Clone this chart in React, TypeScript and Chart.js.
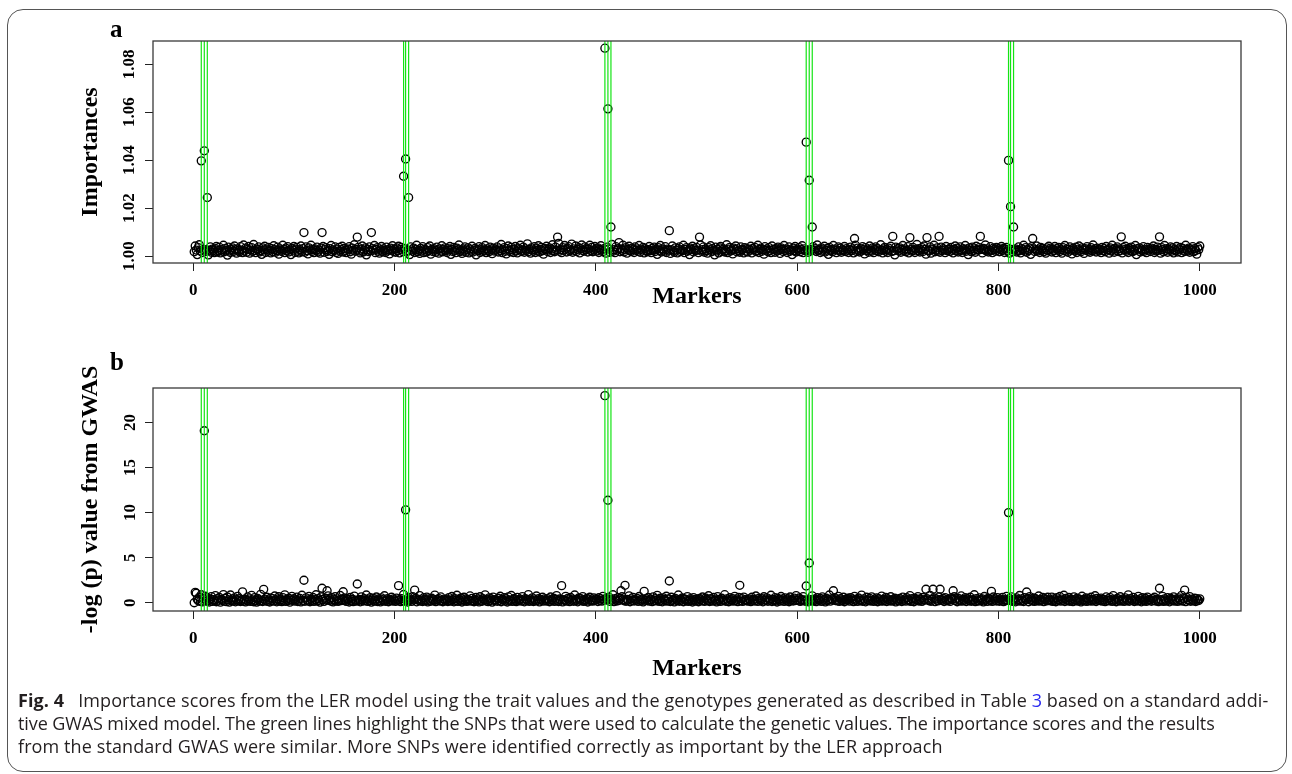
import React, { useEffect, useRef } from "react";
import { Chart, registerables } from "chart.js";

Chart.register(...registerables);

const SERIF = '"Liberation Serif", "Times New Roman", Times, serif';
const CAPTION_FONT = '"Open Sans", "Noto Sans", sans-serif';
const W = 1292;

// ---------- data ----------
const markerTicks = [0, 200, 400, 600, 800, 1000];
const importanceTicks = [1.0, 1.02, 1.04, 1.06, 1.08];
const gwasTicks = [0, 5, 10, 15, 20];

// SNPs used to build the genetic values (green lines)
const causalMarkers = [8, 11, 14, 209, 211, 214, 409, 412, 415, 609, 612, 615, 810, 812, 815];

// Panel a: background importances, in units of 0.0001 above 1.0000 (markers 1..1000)
const importanceBand = [
  18,42,25,6,35,47,21,30,15,28, 44,19,26,33,5,24,38,16,29,22, 14,31,40,17,23,36,13,27,20,45, 18,32,24,4,37,21,15,28,34,19, 42,26,12,30,23,17,39,25,14,46,
  21,33,16,28,40,12,25,35,19,48, 23,14,30,27,38,17,22,7,34,26, 41,15,29,20,36,24,13,31,18,43, 27,16,22,37,8,30,25,19,45,28, 14,33,21,39,17,26,6,32,24,40,
  15,29,36,20,13,27,42,18,31,24, 16,38,22,9,34,26,45,19,28,14, 30,23,37,17,25,12,33,21,40,16, 27,35,19,24,7,31,44,18,26,22, 38,15,29,11,36,20,27,41,17,32,
  23,14,30,26,39,18,8,33,24,47, 20,28,15,36,21,13,29,42,17,25, 34,5,27,19,38,22,16,31,24,44, 14,28,35,20,12,26,40,18,30,23, 15,37,21,27,9,33,25,43,19,29,
  16,34,22,41,13,28,36,19,25,31, 44,17,23,30,6,38,26,20,33,15, 27,45,18,24,11,32,21,39,14,29, 25,17,35,22,42,8,28,19,31,24, 16,37,26,12,30,20,43,18,27,34,
  22,15,31,25,40,7,28,19,36,23, 14,33,27,46,18,24,11,30,21,38, 16,26,34,13,29,20,41,17,25,32, 5,28,22,39,15,27,35,19,24,44, 14,30,23,18,37,26,10,33,21,29,
  25,38,17,30,22,48,14,27,35,20, 9,31,42,24,18,36,26,15,29,40, 21,13,33,27,45,19,24,37,16,30, 23,51,18,28,12,34,26,20,39,15, 31,24,43,17,28,36,22,8,32,27,
  41,19,26,34,15,29,47,22,18,37, 25,31,53,20,27,14,35,24,44,28, 17,32,39,21,26,50,16,30,23,42, 19,28,35,13,31,46,24,20,38,27, 33,17,29,45,22,36,18,25,40,30,
  21,34,15,28,43,24,18,31,26,12, 37,22,29,16,33,48,20,27,14,39, 25,31,56,18,30,23,45,17,26,35, 12,28,41,22,19,33,27,15,38,24, 30,20,44,16,29,25,36,13,31,23,
  18,27,40,22,14,32,25,37,19,28, 7,35,23,44,17,30,26,20,39,15, 29,24,33,11,27,42,21,16,34,25, 13,31,38,19,26,22,45,14,28,35, 20,24,6,33,27,41,17,30,23,36,
  25,14,32,46,20,27,38,16,29,22, 12,35,26,43,18,31,24,5,37,21, 28,13,34,40,19,26,30,17,23,47, 14,29,36,21,25,9,33,27,42,18, 30,22,16,38,24,28,13,35,20,31,
  17,29,24,41,13,32,26,36,19,22, 45,15,28,33,20,27,8,39,24,30, 18,35,23,14,42,26,29,16,31,21, 37,25,11,34,28,19,44,23,30,15, 27,38,20,25,6,33,22,40,17,29,
  24,35,18,27,43,14,30,22,37,26, 16,33,21,28,12,39,25,31,19,46, 23,27,15,34,20,29,41,17,24,32, 7,36,22,28,18,44,26,30,14,25, 38,21,33,16,27,23,40,19,31,24,
  15,28,37,22,30,13,26,45,19,33, 24,17,31,21,39,27,9,35,23,29, 16,42,25,20,34,14,28,38,22,31, 18,26,47,24,13,30,36,20,27,15, 33,25,41,19,29,22,5,37,26,32,
  21,34,16,28,44,23,30,18,25,39, 13,32,27,20,36,24,15,29,48,22, 31,17,26,35,19,42,28,8,33,24, 21,38,12,30,27,45,18,25,34,20, 29,16,37,23,31,26,14,40,22,28,
  30,19,36,24,13,28,42,21,33,17, 26,38,23,15,31,27,44,20,29,6, 34,25,18,37,22,30,16,41,27,24, 35,19,28,13,32,26,46,21,30,17, 25,39,23,14,33,28,20,36,24,31,
  18,27,40,23,32,15,29,36,21,25, 12,34,28,19,43,26,30,17,24,38, 22,13,31,27,45,20,35,16,28,23, 33,7,39,25,30,19,26,42,21,29, 15,36,24,32,18,27,12,34,22,41,
  26,33,17,29,22,40,14,31,25,36, 19,27,12,35,23,44,20,30,16,28, 38,24,9,32,26,21,37,15,29,42, 23,18,34,27,11,31,25,39,20,28, 16,35,22,46,24,30,17,33,26,21,
  29,14,36,23,31,18,40,25,27,12, 34,21,45,28,16,32,24,38,19,30, 22,26,13,35,27,41,20,29,15,33, 24,37,18,28,22,44,6,31,26,34, 17,29,23,39,20,27,14,36,25,30,
  19,33,26,42,15,28,21,37,24,30, 12,35,27,18,44,23,31,16,29,25, 38,20,34,13,27,22,40,17,30,26, 36,14,32,24,19,45,28,21,33,16, 29,25,39,18,31,23,8,35,27,42,
];

// Panel a: markers standing out of the band, and their importances
const importancePeakMarkers = [8, 11, 14, 110, 128, 163, 177, 209, 211, 214, 362, 409, 412, 415, 473, 503, 609, 612, 615, 657, 695, 712, 729, 741, 782, 810, 812, 815, 834, 922, 960];
const importancePeakValues = [1.0397, 1.0439, 1.0244, 1.0098, 1.0098, 1.0079, 1.0098, 1.0333, 1.0405, 1.0244, 1.0079, 1.0867, 1.0614, 1.0121, 1.0106, 1.0079, 1.0475, 1.0316, 1.0121, 1.0073, 1.0082, 1.0077, 1.0077, 1.0082, 1.0082, 1.0399, 1.0206, 1.0121, 1.0073, 1.008, 1.008];

// Panel b: background -log(p), in hundredths (markers 1..1000)
const gwasBand = [
  5,40,35,38,22,61,14,88,9,47, 30,72,18,55,26,8,41,67,15,33, 20,79,11,44,28,58,6,36,24,90, 17,49,12,63,31,7,85,25,40,19, 53,10,34,70,22,46,13,29,95,16,
  38,9,27,64,20,43,15,81,32,11, 56,24,7,48,35,18,92,26,13,60, 39,21,60,14,30,8,52,23,45,17, 74,29,10,41,66,19,34,12,57,27, 87,15,37,22,50,6,31,70,25,44,
  18,35,62,13,28,47,9,83,24,40, 16,53,31,20,71,11,38,25,58,14, 33,88,19,45,27,7,64,22,36,15, 49,30,12,76,26,41,18,55,9,34, 68,21,43,14,29,80,23,37,11,52,
  27,15,46,33,8,59,21,38,12,73, 29,17,50,24,36,10,65,31,19,44, 26,86,14,39,22,57,7,32,48,18, 28,63,13,41,25,9,54,35,20,77, 16,30,45,11,37,24,60,19,42,28,
  14,51,26,70,33,12,44,22,91,17, 38,29,8,58,24,35,15,67,31,20, 47,10,39,26,78,18,30,13,55,36, 23,62,9,42,27,16,50,34,21,84, 12,37,28,46,19,64,25,11,40,32,
  22,40,13,57,29,18,69,35,10,45, 26,83,15,38,24,52,8,31,60,20, 42,14,36,27,75,17,48,23,11,33, 58,21,39,9,66,28,16,44,30,87, 19,35,12,53,25,41,7,62,24,34,
  31,16,49,25,72,11,38,27,56,19, 43,8,64,30,22,80,14,36,47,21, 12,59,33,25,40,17,68,28,10,46, 35,23,90,15,39,27,53,13,32,20, 74,24,44,9,37,29,61,18,42,26,
  19,45,28,11,63,34,22,50,15,38, 79,26,13,41,30,56,9,35,24,70, 18,47,31,12,58,27,40,16,85,23, 36,10,52,29,44,21,67,14,33,26, 48,8,39,60,20,31,17,54,25,43,
  36,13,55,24,42,18,71,29,10,47, 33,21,62,15,38,27,88,12,45,30, 19,57,25,41,8,66,34,22,50,16, 37,28,76,11,43,24,59,19,35,26, 48,14,69,31,20,40,9,53,27,45,
  24,58,17,39,30,12,65,26,44,20, 81,33,15,49,28,10,54,36,22,72, 18,41,29,13,60,25,37,9,47,31, 23,85,16,38,27,52,11,43,34,20, 67,14,30,46,25,8,57,35,19,40,
  29,11,48,35,20,63,26,15,52,38, 23,77,13,44,31,18,59,27,40,9, 68,22,36,14,50,30,24,89,16,42, 28,11,55,33,21,46,17,71,26,39, 12,58,32,20,45,15,62,28,37,23,
  17,43,30,12,61,25,38,19,74,28, 14,50,35,22,46,10,66,31,24,53, 16,40,27,83,13,36,21,57,29,8, 48,34,18,69,26,41,15,54,32,20, 44,11,63,27,37,19,51,24,79,30,
  26,52,14,37,23,68,31,16,45,29, 10,59,34,21,76,18,40,27,12,55, 33,24,47,15,64,28,38,9,50,22, 35,86,17,43,30,13,57,25,39,20, 71,14,46,32,23,61,11,36,28,49,
  33,18,56,27,41,12,70,24,37,15, 52,30,21,84,16,43,28,10,60,35, 23,48,19,65,29,14,39,26,54,11, 45,31,20,73,17,38,25,58,13,42, 30,22,66,18,34,27,49,9,40,24,
  20,47,31,13,62,26,39,17,55,33, 22,78,14,44,28,11,50,36,24,67, 19,41,30,15,58,27,35,10,46,32, 21,81,16,38,25,53,12,43,29,20, 64,18,37,26,48,13,56,31,22,40,
  28,14,53,36,19,66,24,41,11,49, 32,20,75,17,38,27,57,13,44,30, 22,61,16,35,26,88,12,46,29,18, 54,34,23,42,9,69,27,37,15,51, 31,21,45,14,63,28,39,19,56,25,
  16,40,27,59,12,34,22,71,30,18, 47,25,64,14,37,29,10,53,33,21, 80,17,42,26,13,57,35,24,48,11, 67,29,39,19,52,15,44,31,22,74, 18,36,27,58,12,45,33,20,61,26,
  35,20,62,15,43,28,11,55,32,24, 69,17,40,26,83,13,47,30,21,58, 16,38,27,12,65,34,23,50,18,41, 29,9,72,25,37,19,54,14,44,31, 22,60,17,36,28,77,13,48,26,39,
  23,51,17,38,29,12,64,26,42,20, 57,33,15,79,24,36,11,48,30,21, 66,18,40,27,14,53,35,22,87,16, 45,31,25,59,13,39,28,19,70,23, 43,10,55,32,20,47,15,62,29,37,
  30,16,45,26,61,19,38,24,12,53, 34,22,71,15,42,28,18,57,31,10, 49,36,23,65,17,40,27,14,54,33, 21,82,19,44,26,12,58,35,24,68, 16,39,29,20,50,13,46,31,25,43,
];

// Panel b: markers standing out of the band, and their -log(p)
const gwasPeakMarkers = [1, 2, 3, 11, 49, 70, 110, 128, 133, 149, 163, 204, 211, 220, 366, 409, 412, 425, 429, 448, 473, 543, 609, 612, 636, 728, 735, 742, 755, 793, 810, 828, 960, 985];
const gwasPeakValues = [0.0, 1.15, 1.05, 19.08, 1.2, 1.48, 2.49, 1.6, 1.33, 1.22, 2.08, 1.89, 10.3, 1.4, 1.89, 22.97, 11.37, 1.33, 1.93, 1.26, 2.41, 1.93, 1.85, 4.41, 1.33, 1.49, 1.49, 1.49, 1.33, 1.26, 10.0, 1.19, 1.6, 1.4];

// ---------- helpers ----------
function buildPoints(band: number[], unit: number, base: number, peakM: number[], peakV: number[]) {
  const byMarker = new Map<number, number>();
  band.forEach((c, i) => byMarker.set(i + 1, base + c * unit));
  peakM.forEach((m, k) => byMarker.set(m, peakV[k]));
  return Array.from(byMarker.entries()).map(([x, y]) => ({ x, y }));
}

function measureWidest(labels: string[], font: string) {
  const ctx = document.createElement("canvas").getContext("2d")!;
  ctx.font = font;
  return Math.max(...labels.map((l) => ctx.measureText(l).width));
}

const rBox = {
  id: "rBox",
  afterDraw(chart: any, _args: any, opts: any) {
    const { ctx, chartArea: a } = chart;
    ctx.save();
    ctx.strokeStyle = "#3a3a3a";
    ctx.lineWidth = 1.3;
    ctx.strokeRect(a.left, a.top, a.right - a.left, a.bottom - a.top);
    ctx.fillStyle = "#000";
    ctx.font = `bold 25px ${SERIF}`;
    ctx.textAlign = "left";
    ctx.textBaseline = "alphabetic";
    ctx.fillText(opts.letter, opts.lx, opts.ly);
    ctx.restore();
  },
};

type Panel = {
  height: number;
  area: { left: number; top: number; right: number; bottom: number };
  yMin: number;
  yMax: number;
  yTicks: number[];
  yFmt: (v: number) => string;
  yTitle: string;
  yTitleX: number;
  yLabelOffset: number;
  xTitleY: number;
  letter: string;
  letterY: number;
  points: { x: number; y: number }[];
};

const TICK_LEN = 8;
const TICK_SIZE = 17;
const TITLE_SIZE = 24;

function createPanel(canvas: HTMLCanvasElement, p: Panel) {
  const tickFont = { family: SERIF, weight: "bold" as const, size: TICK_SIZE };
  const titleFont = { family: SERIF, weight: "bold" as const, size: TITLE_SIZE };
  const widest = measureWidest(p.yTicks.map(p.yFmt), `bold ${TICK_SIZE}px ${SERIF}`);
  const grid = { display: true, drawOnChartArea: false, drawTicks: true, tickLength: TICK_LEN, color: "#222", lineWidth: 1 };
  const green = causalMarkers.map((m) => ({
    data: [{ x: m, y: p.yMin }, { x: m, y: p.yMax }],
    showLine: true,
    borderColor: "rgb(20,228,20)",
    borderWidth: 1.2,
    pointRadius: 0,
    order: 0,
  }));
  return new Chart(canvas, {
    type: "scatter",
    data: {
      datasets: [
        ...green,
        {
          data: p.points,
          pointRadius: 4,
          pointStyle: "circle",
          borderWidth: 1.35,
          borderColor: "#000",
          backgroundColor: "rgba(0,0,0,0)",
          order: 1,
        },
      ] as any,
    },
    options: {
      responsive: false,
      maintainAspectRatio: false,
      animation: false,
      events: [],
      layout: { padding: { left: 0, top: p.area.top, right: W - p.area.right, bottom: 0 } },
      plugins: {
        legend: { display: false },
        tooltip: { enabled: false },
        rBox: { letter: p.letter, lx: 110, ly: p.letterY },
      } as any,
      scales: {
        x: {
          type: "linear",
          position: "bottom",
          min: -39.96,
          max: 1040.96,
          afterBuildTicks: (s: any) => {
            s.ticks = markerTicks.map((v) => ({ value: v }));
          },
          afterFit: (s: any) => {
            s.height = p.height - p.area.bottom;
          },
          grid,
          border: { display: false },
          ticks: {
            autoSkip: false,
            maxRotation: 0,
            minRotation: 0,
            padding: 28 - TICK_LEN - (TICK_SIZE * 1.2) / 2,
            color: "#000",
            font: tickFont,
            callback: (v: any) => String(v),
          },
          title: {
            display: true,
            text: "Markers",
            color: "#000",
            font: titleFont,
            padding: { top: 0, bottom: p.height - p.xTitleY - (TITLE_SIZE * 1.2) / 2 },
          },
        },
        y: {
          type: "linear",
          min: p.yMin,
          max: p.yMax,
          afterBuildTicks: (s: any) => {
            s.ticks = p.yTicks.map((v) => ({ value: v }));
          },
          afterFit: (s: any) => {
            s.width = p.area.left;
          },
          grid,
          border: { display: false },
          ticks: {
            autoSkip: false,
            minRotation: 90,
            maxRotation: 90,
            crossAlign: "center",
            padding: p.yLabelOffset - TICK_LEN - widest / 2,
            color: "#000",
            font: tickFont,
            callback: (v: any) => p.yFmt(Number(v)),
          },
          title: {
            display: true,
            text: p.yTitle,
            color: "#000",
            font: titleFont,
            padding: { top: p.yTitleX - (TITLE_SIZE * 1.2) / 2, bottom: 0 },
          },
        },
      } as any,
    },
    plugins: [rBox as any],
  });
}

const PANEL_A_H = 340;
const PANEL_B_TOP = 340;
const PANEL_B_H = 350;

export default function App() {
  const aRef = useRef<HTMLCanvasElement>(null);
  const bRef = useRef<HTMLCanvasElement>(null);

  useEffect(() => {
    const a = createPanel(aRef.current!, {
      height: PANEL_A_H,
      area: { left: 153, top: 41, right: 1241, bottom: 263 },
      yMin: 0.9971,
      yMax: 1.0897,
      yTicks: importanceTicks,
      yFmt: (v) => v.toFixed(2),
      yTitle: "Importances",
      yTitleX: 91,
      yLabelOffset: 23,
      xTitleY: 297,
      letter: "a",
      letterY: 37,
      points: buildPoints(importanceBand, 0.0001, 1.0, importancePeakMarkers, importancePeakValues),
    });
    const b = createPanel(bRef.current!, {
      height: PANEL_B_H,
      area: { left: 153, top: 388 - PANEL_B_TOP, right: 1241, bottom: 611 - PANEL_B_TOP },
      yMin: -0.92,
      yMax: 23.82,
      yTicks: gwasTicks,
      yFmt: (v) => String(v),
      yTitle: "-log (p) value from GWAS",
      yTitleX: 91,
      yLabelOffset: 22,
      xTitleY: 669 - PANEL_B_TOP,
      letter: "b",
      letterY: 370 - PANEL_B_TOP,
      points: buildPoints(gwasBand, 0.01, 0, gwasPeakMarkers, gwasPeakValues),
    });
    return () => {
      a.destroy();
      b.destroy();
    };
  }, []);

  const lineStyle: React.CSSProperties = { whiteSpace: "nowrap", height: 23 };

  return (
    <div style={{ position: "fixed", left: 0, top: 0, width: W, height: 774, background: "#fff", overflow: "hidden" }}>
      <div
        style={{
          position: "absolute",
          left: 7,
          top: 9,
          width: 1280,
          height: 763,
          border: "1.5px solid #555",
          borderRadius: 16,
          boxSizing: "border-box",
        }}
      />
      <canvas ref={aRef} width={W} height={PANEL_A_H} style={{ position: "absolute", left: 0, top: 0, width: W, height: PANEL_A_H }} />
      <canvas ref={bRef} width={W} height={PANEL_B_H} style={{ position: "absolute", left: 0, top: PANEL_B_TOP, width: W, height: PANEL_B_H }} />
      <div
        style={{
          position: "absolute",
          left: 18,
          top: 689,
          fontFamily: CAPTION_FONT,
          fontSize: 18,
          letterSpacing: "0.1px",
          lineHeight: "23px",
          color: "#231f20",
        }}
      >
        <div style={lineStyle}>
          <b>Fig. 4</b>
          {"\u2002 Importance scores from the LER model using the trait values and the genotypes generated as described in Table "}
          <span style={{ color: "#2b2bf0" }}>3</span>
          {" based on a standard addi-"}
        </div>
        <div style={{ ...lineStyle, letterSpacing: "-0.1px" }}>
          tive GWAS mixed model. The green lines highlight the SNPs that were used to calculate the genetic values. The importance scores and the results
        </div>
        <div style={lineStyle}>from the standard GWAS were similar. More SNPs were identified correctly as important by the LER approach</div>
      </div>
    </div>
  );
}
